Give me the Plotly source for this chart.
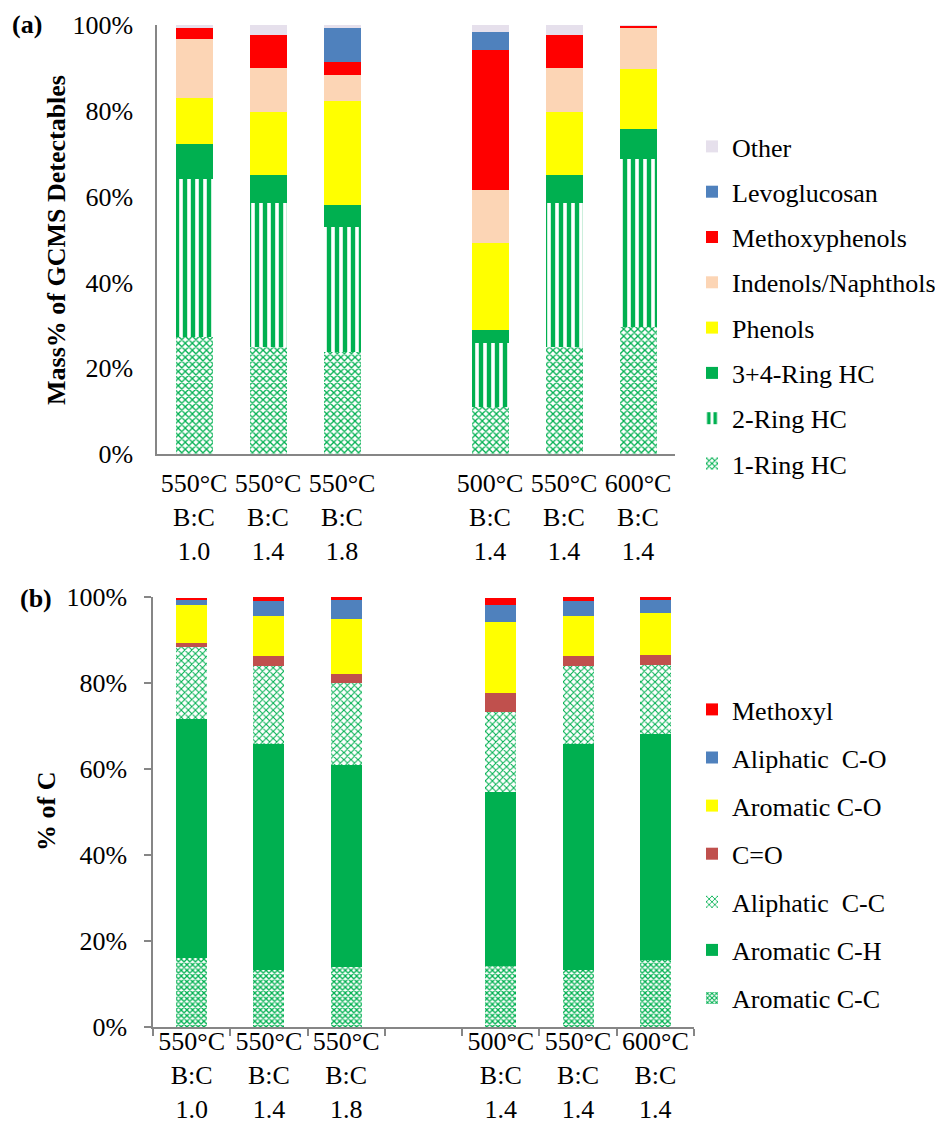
import plotly.graph_objects as go

# ---------------- data ----------------
temps = ["550°C", "550°C", "550°C", "500°C", "550°C", "600°C"]
ratios = ["1.0", "1.4", "1.8", "1.4", "1.4", "1.4"]

# (a) Mass% of GCMS detectables
ring1 = [27.3, 25.0, 23.8, 10.9, 25.0, 29.6]
ring2 = [36.8, 33.6, 29.1, 14.9, 33.6, 39.1]
ring34 = [8.2, 6.4, 5.1, 3.1, 6.4, 7.1]
phenols = [10.8, 14.7, 24.2, 20.2, 14.7, 14.0]
indenols = [13.6, 10.2, 6.1, 12.4, 10.2, 9.7]
methoxyphenols = [2.6, 7.8, 3.1, 32.7, 7.8, 0.3]
levoglucosan = [0.0, 0.0, 7.9, 4.2, 0.0, 0.0]
other = [0.7, 2.3, 0.7, 1.6, 2.3, 0.2]

# (b) % of C
arom_cc = [16.0, 13.2, 14.0, 14.2, 13.2, 15.6]
arom_ch = [55.6, 52.6, 46.9, 40.5, 52.6, 52.5]
aliph_cc = [16.7, 18.2, 19.0, 18.6, 18.2, 16.2]
c_eq_o = [1.1, 2.2, 2.3, 4.3, 2.2, 2.2]
arom_co = [8.7, 9.4, 12.6, 16.5, 9.4, 9.9]
aliph_co = [1.1, 3.4, 4.5, 4.0, 3.4, 2.9]
methoxyl = [0.6, 1.0, 0.7, 1.7, 1.0, 0.7]

# ---------------- layout helpers ----------------
PAGE_W, PAGE_H = 943, 1133
OFF = 8  # default body margin of the html page
W, H = PAGE_W - OFF, PAGE_H - OFF
FONT = "Liberation Serif, Times New Roman, serif"
FS = 26
GREEN = "#00B050"
AXIS_COL = "#868686"

# slots: three B:C samples, a blank slot, three temperature samples
slots = [i if i < 3 else i + 1 for i in range(len(temps))]
ticktext = [f"{t}<br>B:C<br>{r}" for t, r in zip(temps, ratios)]


def px_x(p):
    return (p - OFF) / W


def px_y(p):
    return 1 - (p - OFF) / H


fig = go.Figure()
rank = [1000]


def add_bar(y, name, color=None, pattern=None, axis="1", legend="legend", width=0.5):
    marker = dict(line=dict(width=0))
    if pattern is None:
        marker["color"] = color
    else:
        marker["color"] = "white"
        marker["pattern"] = dict(pattern, fgcolor=GREEN, bgcolor="white", fgopacity=1)
    rank[0] -= 1
    fig.add_trace(go.Bar(
        x=slots, y=y, name=name, marker=marker, width=width,
        xaxis="x" if axis == "1" else "x2",
        yaxis="y" if axis == "1" else "y2",
        legend=legend, legendgroup=name + axis, legendrank=rank[0],
    ))


# (a)
add_bar(ring1, "1-Ring HC", pattern=dict(shape="x", size=5, solidity=0.45))
add_bar(ring2, "2-Ring HC", pattern=dict(shape="|", size=8, solidity=0.55))
add_bar(ring34, "3+4-Ring HC", color=GREEN)
add_bar(phenols, "Phenols", color="#FFFF00")
add_bar(indenols, "Indenols/Naphthols", color="#FCD5B5")
add_bar(methoxyphenols, "Methoxyphenols", color="#FF0000")
add_bar(levoglucosan, "Levoglucosan", color="#4F81BD")
add_bar(other, "Other", color="#E6E0EC")

# (b)
add_bar(arom_cc, "Aromatic C-C", pattern=dict(shape="x", size=4, solidity=0.55),
        axis="2", legend="legend2", width=0.4)
add_bar(arom_ch, "Aromatic C-H", color=GREEN, axis="2", legend="legend2", width=0.4)
add_bar(aliph_cc, "Aliphatic  C-C", pattern=dict(shape="x", size=5, solidity=0.38),
        axis="2", legend="legend2", width=0.4)
add_bar(c_eq_o, "C=O", color="#C0504D", axis="2", legend="legend2", width=0.4)
add_bar(arom_co, "Aromatic C-O", color="#FFFF00", axis="2", legend="legend2", width=0.4)
add_bar(aliph_co, "Aliphatic  C-O", color="#4F81BD", axis="2", legend="legend2", width=0.4)
add_bar(methoxyl, "Methoxyl", color="#FF0000", axis="2", legend="legend2", width=0.4)

nslots = len(temps) + 1
common_x = dict(
    range=[-0.5, nslots - 0.5], tickmode="array", tickvals=slots, ticktext=ticktext,
    showline=True, linecolor=AXIS_COL, linewidth=1.5, showgrid=False, zeroline=False,
    tickfont=dict(family=FONT, size=FS, color="black"), automargin=False,
)
common_y = dict(
    range=[0, 100.01], tickmode="array", tickvals=[0, 20, 40, 60, 80, 100],
    ticktext=["0%", "20%", "40%", "60%", "80%", "100%"],
    showline=True, linecolor=AXIS_COL, linewidth=1.5, showgrid=False, zeroline=False,
    tickfont=dict(family=FONT, size=FS, color="black"), automargin=False,
)

fig.update_layout(
    width=W, height=H, barmode="stack", plot_bgcolor="white", paper_bgcolor="white",
    margin=dict(l=0, r=0, t=0, b=0, pad=0, autoexpand=False), autosize=False,
    font=dict(family=FONT, size=FS, color="black"),
    xaxis=dict(common_x, domain=[px_x(157), px_x(675)], anchor="y", ticks="",
               ticklabelstandoff=5),
    yaxis=dict(common_y, domain=[px_y(454), px_y(25)], anchor="x", ticks="", ticklabelstandoff=17),
    xaxis2=dict(common_x, domain=[px_x(153), px_x(694)], anchor="y2", ticks="",
                ticklabelstandoff=-10,
                minor=dict(tickvals=[s - 0.5 for s in range(nslots + 1)], ticks="outside",
                           ticklen=7, tickcolor=AXIS_COL, tickwidth=1.5)),
    yaxis2=dict(common_y, domain=[px_y(1027), px_y(597)], anchor="x2", ticks="outside",
                ticklen=7, tickcolor=AXIS_COL, tickwidth=1.5, ticklabelstandoff=12),
    legend=dict(x=px_x(692), y=px_y(123), xanchor="left", yanchor="top",
                traceorder="grouped", tracegroupgap=8.5,
                font=dict(family=FONT, size=FS, color="black"), bgcolor="rgba(0,0,0,0)"),
    legend2=dict(x=px_x(692), y=px_y(686), xanchor="left", yanchor="top",
                 traceorder="grouped", tracegroupgap=11.3,
                 font=dict(family=FONT, size=FS, color="black"), bgcolor="rgba(0,0,0,0)"),
    annotations=[
        dict(text="<b>(a)</b>", x=px_x(10), y=px_y(25), xref="paper", yref="paper",
             xanchor="left", yanchor="middle", showarrow=False, font=dict(size=FS)),
        dict(text="<b>(b)</b>", x=px_x(18), y=px_y(598), xref="paper", yref="paper",
             xanchor="left", yanchor="middle", showarrow=False, font=dict(size=FS)),
        dict(text="<b>Mass% of GCMS Detectables</b>", x=px_x(57), y=px_y(240), xref="paper",
             yref="paper", textangle=-90, xanchor="center", yanchor="middle",
             showarrow=False, font=dict(size=FS)),
        dict(text="<b>% of C</b>", x=px_x(46), y=px_y(812), xref="paper",
             yref="paper", textangle=-90, xanchor="center", yanchor="middle",
             showarrow=False, font=dict(size=FS)),
    ],
)

fig.write_html("out.html")
